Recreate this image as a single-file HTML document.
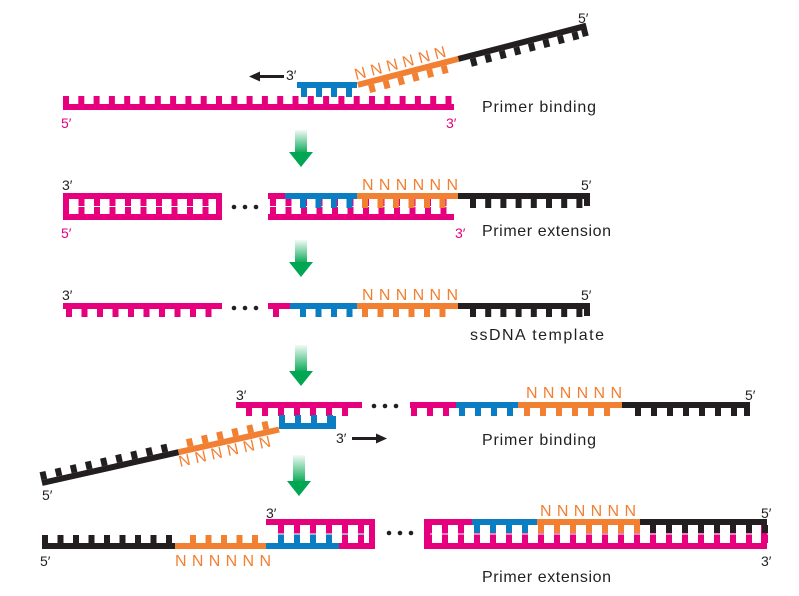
<!DOCTYPE html>
<html><head><meta charset="utf-8"><style>
body{margin:0;background:#fff}
svg{display:block}
text{font-family:"Liberation Sans",sans-serif}
</style></head><body>
<svg id="s" width="799" height="596" xmlns="http://www.w3.org/2000/svg">
<defs>
<linearGradient id="g" x1="0" y1="0" x2="0" y2="1">
<stop offset="0" stop-color="#00a651" stop-opacity="0.05"/>
<stop offset="1" stop-color="#00a651"/>
</linearGradient>
</defs>
<g id="d"></g>
<g font-size="16">
<text x="482" y="112" fill="#231f20" textLength="114">Primer binding</text>
<text x="482" y="236" fill="#231f20" textLength="129">Primer extension</text>
<text x="470" y="340" fill="#231f20" textLength="134">ssDNA template</text>
<text x="482" y="445" fill="#231f20" textLength="114">Primer binding</text>
<text x="482" y="582" fill="#231f20" textLength="129">Primer extension</text>
</g>
<g font-size="14" fill="#231f20">
<text x="578" y="23">5′</text>
<text x="286" y="80">3′</text>
<text x="62" y="190">3′</text>
<text x="581" y="190">5′</text>
<text x="62" y="300">3′</text>
<text x="581" y="300">5′</text>
<text x="236" y="400">3′</text>
<text x="745" y="400">5′</text>
<text x="336" y="443">3′</text>
<text x="42" y="500">5′</text>
<text x="266" y="518">3′</text>
<text x="761" y="518">5′</text>
<text x="40" y="566">5′</text>
<text x="761" y="566">3′</text>
</g>
<g font-size="14" fill="#e6007e">
<text x="61" y="128">5′</text>
<text x="446" y="128">3′</text>
<text x="61" y="238">5′</text>
<text x="455" y="238">3′</text>
</g>
<g font-size="16" fill="#f28033">
<text x="362" y="190" textLength="96">NNNNNN</text>
<text x="362" y="300" textLength="96">NNNNNN</text>
<text x="526" y="398" textLength="96">NNNNNN</text>
<text x="540" y="516" textLength="96">NNNNNN</text>
<text x="175" y="566" textLength="96">NNNNNN</text>
<text transform="translate(356,80) rotate(-14.5)" textLength="94">NNNNNN</text>
<text transform="translate(180,467) rotate(-12.7)" textLength="94">NNNNNN</text>
</g>
<g fill="#231f20">
<rect x="258" y="75" width="26" height="3"/><polygon points="249,76.5 260,71.5 260,81.5"/>
<rect x="352" y="437" width="26" height="3"/><polygon points="387,438.5 376,433.5 376,443.5"/>
<g><circle cx="234" cy="207" r="2.3"/><circle cx="245" cy="207" r="2.3"/><circle cx="256" cy="207" r="2.3"/>
<circle cx="234" cy="308" r="2.3"/><circle cx="245" cy="308" r="2.3"/><circle cx="256" cy="308" r="2.3"/>
<circle cx="374" cy="406" r="2.3"/><circle cx="385" cy="406" r="2.3"/><circle cx="396" cy="406" r="2.3"/>
<circle cx="389" cy="533" r="2.3"/><circle cx="400" cy="533" r="2.3"/><circle cx="411" cy="533" r="2.3"/></g>
</g>
</svg>
<script>
const M="#e6007e",B="#0a7dc3",O="#f28033",K="#231f20";
const d=document.getElementById('d');let h='';const TW=6,BT=6;
function r(x,y,w,hh,c,t){h+=`<rect x="${x}" y="${y}" width="${w}" height="${hh}" fill="${c}"${t?` transform="${t}"`:''}/>`;}
function seg(x1,x2,y,c,dir,len,x0,sp,t){r(x1,y,x2-x1,BT,c,t);
 for(let x=x0;x<=x2-TW+1;x+=sp){if(x<x1)continue;r(x,dir>0?y+BT:y-len,TW,len,c,t);} }
function arrow(x,y1,y2){h+=`<rect x="${x-6}" y="${y1}" width="12" height="${y2-y1-13}" fill="url(#g)"/><polygon points="${x-12},${y2-15} ${x+12},${y2-15} ${x},${y2}" fill="#00a651"/>`;}
seg(63,454,104,M,-1,8,63,15.3);
seg(297,357,82,B,1,9,301,15);
{const t="translate(357,82) rotate(-14.5)";seg(0,104,0,O,1,8,10,15,t);seg(104,236,0,K,1,8,115,15,t);r(230,0,6,13,K,t);}
function ladder(x1,x2,yt,yb,c,x0,sp,cb){r(x1,yt,x2-x1,BT,c);r(x1,yb,x2-x1,BT,cb||c);const m=(yt+BT+yb)/2;
 for(let x=x0;x<=x2-TW+1;x+=sp){r(x,yt+BT,TW,m-yt-BT-0.5,c);r(x,m+0.5,TW,yb-m-0.5,cb||c);} }
ladder(63,222,193,214,M,63,15.5);r(63,193,6,27,M);r(216,193,6,27,M);
ladder(268,454,193,214,M,270,15.5);
seg(285,357,193,B,1,9,300,15.5);seg(357,458,193,O,1,9,362,15.5);seg(458,590,193,K,1,9,470,15.2);r(584,193,6,13,K);
r(268,193,17,BT,M);
for(let x=300;x<357;x+=15.5)r(x,199,TW,8,B);for(let x=362;x<454;x+=15.5)r(x,199,TW,8,O);
seg(63,222,303,M,1,8,66,15.5);seg(268,290,303,M,1,8,273,15.5);seg(290,357,303,B,1,8,300,15.5);seg(357,458,303,O,1,8,362,15.5);seg(458,590,303,K,1,8,470,15.2);r(584,303,6,13,K);
seg(236,362,402,M,1,8,246,16);seg(410,456,402,M,1,8,411,16);seg(456,518,402,B,1,8,459,16);seg(518,622,402,O,1,8,524,16);seg(622,750,402,K,1,8,635,16);r(744,402,6,14,K);
seg(279,336,423,B,-1,8,279,16);r(330,416,6,13,B);
{const t="translate(42,483) rotate(-12.7)";seg(0,140,-3,K,-1,8,0,15.5,t);seg(140,243,-3,O,-1,8,150,15.5,t);}
seg(42,175,543,K,-1,8,42,15.5);seg(175,272,543,O,-1,8,190,15.5);
ladder(266,375,519,543,M,278,16,B);r(339,543,36,BT,M);r(369,519,6,30,M);r(266,519,6,BT,M);
for(let x=342;x<369;x+=16)r(x,535,TW,8,M);
ladder(424,767,519,543,M,426,16);r(424,519,6,30,M);r(761,519,6,30,M);
seg(472,537,519,B,1,8,474,16);seg(537,640,519,O,1,8,538,16);seg(640,767,519,K,1,8,650,16);r(424,519,48,BT,M);
arrow(301,130,167);arrow(301,240,277);arrow(301,345,386);arrow(299,455,496);
d.innerHTML=h;
</script>
</body></html>
